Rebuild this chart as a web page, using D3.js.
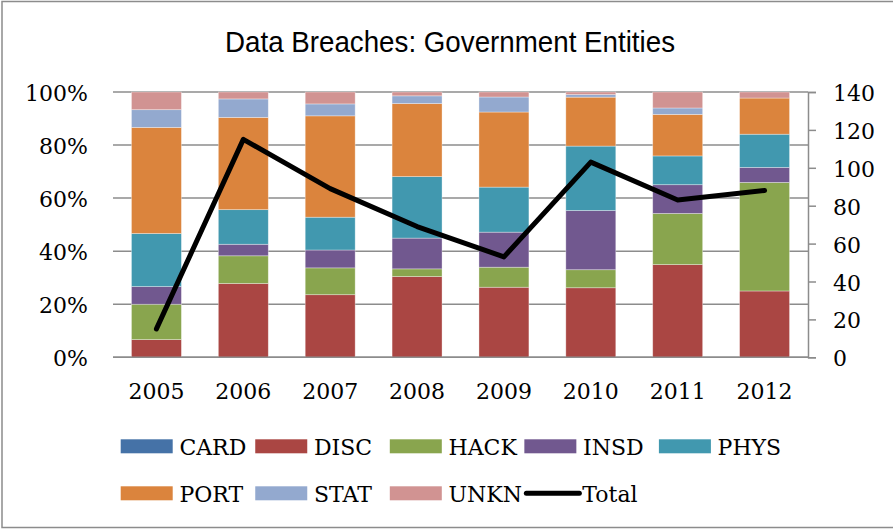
<!DOCTYPE html>
<html>
  <head>
    <style>
      html, body {
        padding: 0;
        margin: 0;
        overflow: hidden;
        background: #ffffff;
      }
      .tick-label {
        font-family: "DejaVu Serif", "Liberation Serif", serif;
        font-size: 22px;
        fill: #000;
      }
      .grid {
        stroke: #8c8c8c;
        stroke-width: 1.5;
      }
    </style>
  </head>
  <body>
    <div id="chart"></div>
    <script src="https://cdnjs.cloudflare.com/ajax/libs/d3/7.8.5/d3.min.js"></script>
    <script>
      // counts of breaches per type
      const years = ['2005', '2006', '2007', '2008', '2009', '2010', '2011', '2012']
      const types = ['CARD', 'DISC', 'HACK', 'INSD', 'PHYS', 'PORT', 'STAT', 'UNKN']
      const CARD = [0, 0, 0, 0, 0, 0, 0, 0]
      const DISC = [1, 32, 21, 21, 14, 27, 29, 22]
      const HACK = [2, 12, 9, 2, 4, 7, 16, 36]
      const INSD = [1, 5, 6, 8, 7, 23, 9, 5]
      const PHYS = [3, 15, 11, 16, 9, 25, 9, 11]
      const PORT = [6, 40, 34, 19, 15, 19, 13, 12]
      const STAT = [1, 8, 4, 2, 3, 1, 2, 0]
      const UNKN = [1, 3, 4, 1, 1, 1, 5, 2]
      const leftTicks = [0, 0.2, 0.4, 0.6, 0.8, 1]
      const rightTicks = [0, 20, 40, 60, 80, 100, 120, 140]

      const colors = {
        CARD: '#4572a7',
        DISC: '#aa4643',
        HACK: '#89a54e',
        INSD: '#71588f',
        PHYS: '#4198af',
        PORT: '#db843d',
        STAT: '#93a9cf',
        UNKN: '#d19392'
      }

      ;(() => {
        let width = 893
        let height = 529
        let plot = { left: 113, right: 808, top: 92, bottom: 357.3 }

        let series = { CARD, DISC, HACK, INSD, PHYS, PORT, STAT, UNKN }
        let rows = years.map((y, i) => {
          let row = { year: y }
          types.forEach(t => { row[t] = series[t][i] })
          row.Total = d3.sum(types, t => series[t][i])
          return row
        })

        let svg = d3.select('#chart')
          .append('svg')
          .attr('width', width)
          .attr('height', height)

        // outer border
        svg.append('rect')
          .attr('x', 2).attr('y', 1.5)
          .attr('width', width + 4).attr('height', 526)
          .attr('fill', '#fff')
          .attr('stroke', '#8c8c8c')
          .attr('stroke-width', 1.5)

        svg.append('text')
          .attr('x', 450)
          .attr('y', 52)
          .attr('text-anchor', 'middle')
          .attr('font-family', '"Liberation Sans Narrow", "Liberation Sans", Arial, sans-serif')
          .attr('font-size', 30)
          .attr('textLength', 450)
          .attr('lengthAdjust', 'spacingAndGlyphs')
          .text('Data Breaches: Government Entities')

        let x = d3.scaleBand()
          .domain(years)
          .range([plot.left, plot.right])
          .paddingInner(0.425)
          .paddingOuter(0.2125)

        let y = d3.scaleLinear().domain([0, 1]).range([plot.bottom, plot.top])
        let y2 = d3.scaleLinear().domain([0, 140]).range([plot.bottom, plot.top])

        // gridlines
        svg.append('g')
          .selectAll('line')
          .data(leftTicks)
          .enter().append('line')
          .attr('class', 'grid')
          .attr('x1', plot.left)
          .attr('x2', plot.right)
          .attr('y1', d => y(d))
          .attr('y2', d => y(d))

        svg.append('g')
          .selectAll('text')
          .data(leftTicks)
          .enter().append('text')
          .attr('class', 'tick-label')
          .attr('x', 88)
          .attr('y', d => y(d) + 9)
          .attr('text-anchor', 'end')
          .text(d => d3.format('.0%')(d))

        // stacked bars
        let stack = d3.stack().keys(types).offset(d3.stackOffsetExpand)
        let layers = stack(rows)

        svg.append('g')
          .selectAll('g')
          .data(layers)
          .enter().append('g')
          .attr('fill', d => colors[d.key])
          .selectAll('rect')
          .data(d => d)
          .enter().append('rect')
          .attr('x', d => x(d.data.year))
          .attr('width', x.bandwidth())
          .attr('y', d => y(d[1]))
          .attr('height', d => y(d[0]) - y(d[1]))
          .attr('stroke', 'rgba(255,255,255,0.45)')
          .attr('stroke-width', 0.75)

        // bottom axis line
        svg.append('line')
          .attr('class', 'grid')
          .attr('x1', plot.left).attr('x2', plot.right)
          .attr('y1', plot.bottom).attr('y2', plot.bottom)

        svg.append('g')
          .selectAll('text')
          .data(years)
          .enter().append('text')
          .attr('class', 'tick-label')
          .attr('x', d => x(d) + x.bandwidth() / 2)
          .attr('y', 399)
          .attr('text-anchor', 'middle')
          .text(d => d)

        // right axis
        let right = svg.append('g')
          .attr('transform', 'translate(' + plot.right + ',0)')
          .call(d3.axisRight(y2).tickValues(rightTicks).tickSize(8).tickFormat(''))
        right.select('.domain').attr('stroke', '#8c8c8c').attr('stroke-width', 1.5)
        right.selectAll('.tick line').attr('stroke', '#8c8c8c').attr('stroke-width', 1.5)

        svg.append('g')
          .selectAll('text')
          .data(rightTicks)
          .enter().append('text')
          .attr('class', 'tick-label')
          .attr('x', 833)
          .attr('y', d => y2(d) + 9)
          .text(d => d)

        // total line
        let line = d3.line()
          .x(d => x(d.year) + x.bandwidth() / 2)
          .y(d => y2(d.Total))

        svg.append('path')
          .datum(rows)
          .attr('d', line)
          .attr('fill', 'none')
          .attr('stroke', '#000')
          .attr('stroke-width', 5)
          .attr('stroke-linejoin', 'round')
          .attr('stroke-linecap', 'round')

        // legend
        let legendItems = types.concat(['Total'])
        let legend = svg.append('g')
          .selectAll('g')
          .data(legendItems)
          .enter().append('g')
          .attr('transform', (d, i) => {
            let col = i % 5
            let row = Math.floor(i / 5)
            return 'translate(' + (120.7 + col * 134.55) + ',' + (446.3 + row * 47) + ')'
          })

        legend.filter(d => d !== 'Total')
          .append('rect')
          .attr('x', 0).attr('y', -7)
          .attr('width', 52).attr('height', 14)
          .attr('fill', d => colors[d])

        legend.filter(d => d === 'Total')
          .append('line')
          .attr('x1', 2).attr('x2', 55)
          .attr('y1', 0).attr('y2', 0)
          .attr('stroke', '#000')
          .attr('stroke-width', 5)
          .attr('stroke-linecap', 'round')

        legend.append('text')
          .attr('class', 'tick-label')
          .attr('x', d => d === 'Total' ? 58 : 58.7)
          .attr('y', 8.7)
          .text(d => d)
      })()
    </script>
  </body>
</html>
